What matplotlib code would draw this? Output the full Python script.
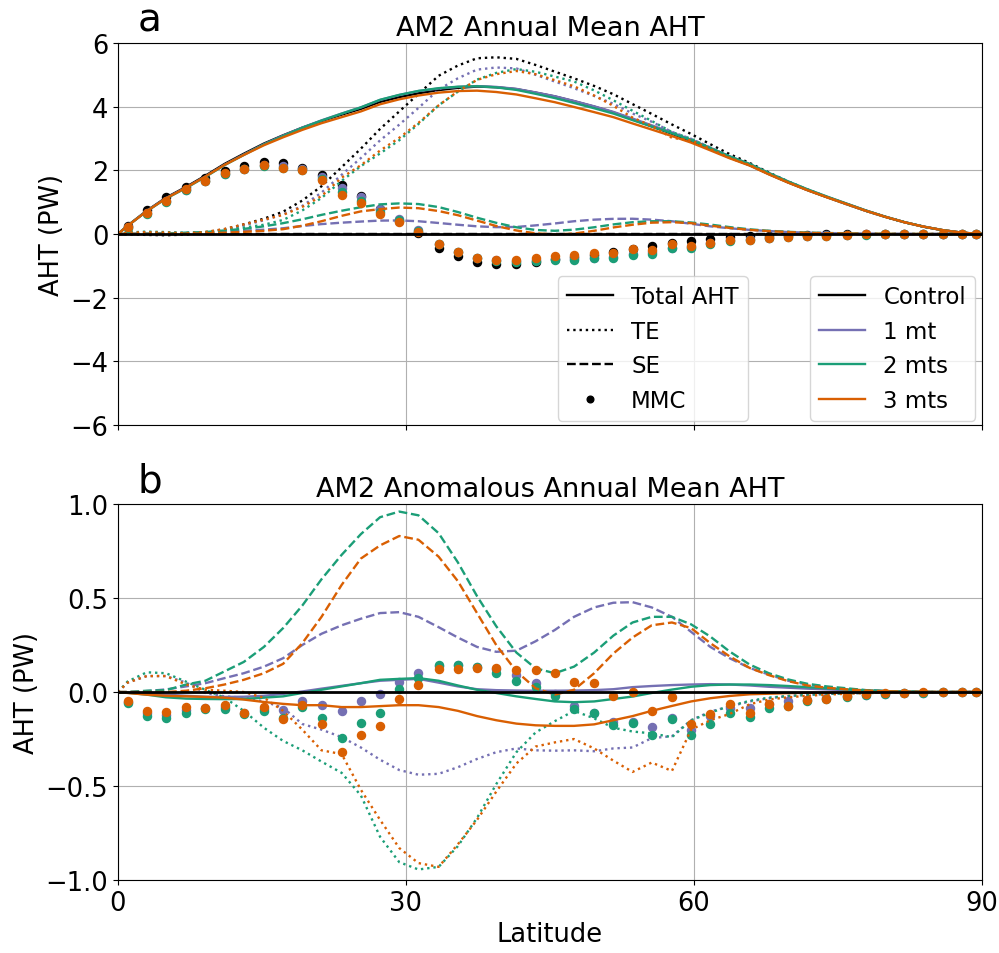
import numpy as np
import matplotlib
matplotlib.use('Agg')
import matplotlib.pyplot as plt
from matplotlib.lines import Line2D

# latitude of the model points (dots); lines also go to 0 and 90
lat = [1.0, 3.0, 5.0, 7.1, 9.1, 11.1, 13.1, 15.2, 17.2, 19.2, 21.2, 23.3, 25.3, 27.3, 29.3,
       31.3, 33.4, 35.4, 37.4, 39.4, 41.5, 43.5, 45.5, 47.5, 49.6, 51.6, 53.6, 55.6, 57.7, 59.7,
       61.7, 63.7, 65.8, 67.8, 69.8, 71.8, 73.8, 75.9, 77.9, 79.9, 81.9, 83.9, 85.9, 87.9, 89.4]

# control run (PW)
ctl_total = [0.26, 0.73, 1.14, 1.48, 1.83, 2.2, 2.52, 2.84, 3.1, 3.34, 3.55, 3.75, 3.93, 4.15, 4.3,
             4.42, 4.52, 4.59, 4.63, 4.61, 4.55, 4.44, 4.32, 4.17, 4.0, 3.82, 3.6, 3.38, 3.15, 2.92,
             2.66, 2.4, 2.16, 1.88, 1.62, 1.38, 1.16, 0.94, 0.73, 0.54, 0.37, 0.23, 0.12, 0.04, 0.01]
ctl_te = [-0.01, -0.03, -0.04, -0.02, 0.05, 0.15, 0.3, 0.48, 0.7, 1.05, 1.5, 2.1, 2.68, 3.3, 3.85,
          4.4, 4.97, 5.29, 5.52, 5.55, 5.5, 5.31, 5.1, 4.89, 4.65, 4.39, 4.08, 3.77, 3.44, 3.14,
          2.82, 2.51, 2.23, 1.93, 1.65, 1.4, 1.17, 0.94, 0.73, 0.54, 0.37, 0.23, 0.12, 0.04, 0.01]
ctl_se = [0.0] * 45
ctl_mmc = [0.26, 0.76, 1.15, 1.49, 1.76, 1.97, 2.15, 2.25, 2.22, 2.08, 1.86, 1.55, 1.2, 0.8, 0.42,
           0.02, -0.45, -0.7, -0.89, -0.94, -0.95, -0.87, -0.78, -0.72, -0.65, -0.57, -0.48, -0.39, -0.29, -0.22,
           -0.16, -0.11, -0.07, -0.05, -0.03, -0.02, -0.01, 0, 0, 0, 0, 0, 0, 0, 0]

# anomalies relative to control (PW)
d1_total = [-0.004, -0.007, -0.014, -0.02, -0.025, -0.026, -0.025, -0.02, -0.01, 0.003, 0.018, 0.033, 0.047, 0.06, 0.065,
            0.07, 0.05, 0.03, 0.015, 0.01, 0.008, 0.007, 0.007, 0.008, 0.01, 0.015, 0.026, 0.032, 0.037, 0.04,
            0.042, 0.04, 0.035, 0.028, 0.023, 0.018, 0.014, 0.01, 0.007, 0.005, 0.003, 0.001, 0, 0, 0]
d2_total = [-0.004, -0.014, -0.028, -0.035, -0.037, -0.038, -0.037, -0.03, -0.023, -0.005, 0.012, 0.03, 0.047, 0.065, 0.07,
            0.074, 0.06, 0.035, 0.012, -0.005, -0.023, -0.037, -0.05, -0.054, -0.05, -0.037, -0.024, -0.005, 0.013, 0.028,
            0.037, 0.04, 0.04, 0.037, 0.032, 0.026, 0.02, 0.014, 0.009, 0.005, 0.003, 0.001, 0, 0, 0]
d3_total = [-0.005, -0.014, -0.02, -0.023, -0.026, -0.03, -0.04, -0.053, -0.063, -0.07, -0.07, -0.08, -0.08, -0.075, -0.07,
            -0.07, -0.08, -0.1, -0.128, -0.15, -0.168, -0.177, -0.18, -0.18, -0.172, -0.15, -0.128, -0.1, -0.074, -0.05,
            -0.033, -0.021, -0.012, -0.009, -0.006, -0.004, -0.003, -0.002, -0.001, 0, 0, 0, 0, 0, 0]

d1_te = [0.05, 0.085, 0.085, 0.05, -0.005, -0.023, -0.03, -0.05, -0.084, -0.17, -0.2, -0.24, -0.295, -0.36, -0.415,
         -0.44, -0.435, -0.4, -0.356, -0.32, -0.3, -0.31, -0.312, -0.31, -0.315, -0.3, -0.295, -0.245, -0.235, -0.15,
         -0.104, -0.077, -0.05, -0.033, -0.021, -0.015, -0.01, -0.007, -0.005, -0.003, 0, 0, 0, 0, 0]
d2_te = [0.056, 0.105, 0.1, 0.055, 0.012, -0.03, -0.1, -0.19, -0.26, -0.31, -0.37, -0.43, -0.55, -0.77, -0.905,
         -0.944, -0.93, -0.82, -0.67, -0.49, -0.32, -0.215, -0.155, -0.1, -0.14, -0.19, -0.21, -0.22, -0.24, -0.15,
         -0.11, -0.074, -0.047, -0.03, -0.021, -0.015, -0.01, -0.007, -0.004, -0.002, 0, 0, 0, 0, 0]
d3_te = [0.05, 0.085, 0.085, 0.04, 0.012, 0.007, 0.0, -0.03, -0.1, -0.2, -0.31, -0.33, -0.52, -0.68, -0.83,
         -0.91, -0.93, -0.81, -0.68, -0.53, -0.38, -0.29, -0.268, -0.25, -0.3, -0.365, -0.425, -0.375, -0.42, -0.2,
         -0.15, -0.117, -0.065, -0.04, -0.028, -0.02, -0.014, -0.009, -0.006, -0.003, 0, 0, 0, 0, 0]

d1_se = [0.0, 0.005, 0.014, 0.03, 0.047, 0.074, 0.10, 0.135, 0.18, 0.25, 0.31, 0.355, 0.39, 0.42, 0.425,
         0.40, 0.345, 0.29, 0.24, 0.214, 0.22, 0.27, 0.33, 0.40, 0.45, 0.475, 0.478, 0.45, 0.40, 0.32,
         0.24, 0.18, 0.128, 0.093, 0.06, 0.04, 0.026, 0.014, 0.01, 0.005, 0.002, 0, 0, 0, 0]
d2_se = [0.0, 0.007, 0.01, 0.04, 0.06, 0.11, 0.16, 0.24, 0.34, 0.46, 0.60, 0.73, 0.84, 0.93, 0.96,
         0.94, 0.845, 0.69, 0.51, 0.35, 0.21, 0.126, 0.10, 0.135, 0.21, 0.30, 0.37, 0.40, 0.40, 0.36,
         0.295, 0.216, 0.146, 0.10, 0.067, 0.044, 0.03, 0.02, 0.01, 0.005, 0.002, 0, 0, 0, 0]
d3_se = [0.0, 0.0, 0.0, 0.007, 0.02, 0.04, 0.065, 0.10, 0.15, 0.26, 0.40, 0.57, 0.71, 0.78, 0.83,
         0.81, 0.72, 0.59, 0.42, 0.25, 0.11, 0.02, -0.014, 0.012, 0.10, 0.205, 0.29, 0.355, 0.37, 0.34,
         0.26, 0.19, 0.128, 0.09, 0.058, 0.035, 0.023, 0.014, 0.008, 0.004, 0.002, 0, 0, 0, 0]

d1_mmc = [-0.055, -0.11, -0.12, -0.095, -0.085, -0.078, -0.11, -0.09, -0.093, -0.049, -0.067, -0.1, -0.046, -0.01, 0.056,
          0.1, 0.14, 0.144, 0.135, 0.123, 0.09, 0.047, -0.01, -0.075, -0.11, -0.158, -0.16, -0.188, -0.14, -0.2,
          -0.126, -0.086, -0.086, -0.065, -0.047, -0.042, -0.03, -0.02, -0.015, -0.008, -0.005, -0.003, -0.002, -0.001, 0]
d2_mmc = [-0.058, -0.128, -0.14, -0.11, -0.088, -0.088, -0.116, -0.1, -0.137, -0.08, -0.14, -0.246, -0.167, -0.11, 0.016,
          0.074, 0.144, 0.144, 0.135, 0.1, 0.06, 0.025, -0.023, -0.088, -0.11, -0.175, -0.165, -0.228, -0.146, -0.228,
          -0.17, -0.114, -0.135, -0.086, -0.074, -0.047, -0.039, -0.025, -0.018, -0.01, -0.005, -0.003, -0.002, -0.001, 0]
d3_mmc = [-0.049, -0.1, -0.107, -0.08, -0.083, -0.067, -0.11, -0.08, -0.146, -0.067, -0.17, -0.32, -0.228, -0.18, -0.037,
          0.035, 0.123, 0.123, 0.126, 0.13, 0.118, 0.118, 0.1, 0.056, 0.05, -0.022, 0.0, -0.1, -0.027, -0.17,
          -0.118, -0.065, -0.112, -0.065, -0.074, -0.042, -0.039, -0.021, -0.012, -0.007, -0.004, -0.002, -0.001, 0, 0]

names = ['Control', '1 mt', '2 mts', '3 mts']
colors = ['k', '#7570b3', '#1b9e77', '#d95f02']
zero = [0.0] * 45
anoms = [
    (zero, zero, zero, zero),
    (d1_total, d1_te, d1_se, d1_mmc),
    (d2_total, d2_te, d2_se, d2_mmc),
    (d3_total, d3_te, d3_se, d3_mmc),
]

plt.rcParams['font.size'] = 18.5

fig = plt.figure(figsize=(9.99, 9.54), dpi=100)
ax1 = fig.add_axes([0.1181, 0.5535, 0.8649, 0.4004])
ax2 = fig.add_axes([0.1181, 0.0765, 0.8649, 0.3941])

lat = np.array(lat)
xl = np.r_[0, lat, 90]


def ends(v):
    return np.r_[0, v, 0]


lw = 1.7
ms = 5.8
for i, (c, a) in enumerate(zip(colors, anoms)):
    tot, te, se, mmc = [np.array(v) for v in a]
    # panel a: full fields
    ax1.plot(xl, ends(np.array(ctl_total) + tot), '-', color=c, lw=lw)
    ax1.plot(xl, ends(np.array(ctl_te) + te), ':', color=c, lw=lw)
    ax1.plot(xl, ends(np.array(ctl_se) + se), '--', color=c, lw=lw)
    ax1.plot(lat, np.array(ctl_mmc) + mmc, 'o', color=c, ms=ms, ls='none')
    # panel b: anomalies (control is the zero line)
    if i == 0:
        continue
    ax2.plot(xl, ends(tot), '-', color=c, lw=lw)
    ax2.plot(xl, ends(te), ':', color=c, lw=lw)
    ax2.plot(xl, ends(se), '--', color=c, lw=lw)
    ax2.plot(lat, mmc, 'o', color=c, ms=ms, ls='none')

for ax in (ax1, ax2):
    ax.axhline(0, color='k', lw=lw + 0.3, zorder=5)
    ax.set_xlim(0, 90)
    ax.set_xticks([0, 30, 60, 90])
    ax.grid(True)
    ax.set_ylabel('AHT (PW)')

ax1.set_ylim(-6, 6)
ax1.set_yticks([-6, -4, -2, 0, 2, 4, 6])
ax1.set_xticklabels([])
ax1.set_title('AM2 Annual Mean AHT', fontsize=19.5)
ax1.text(0.023, 1.012, 'a', transform=ax1.transAxes, fontsize=28, va='bottom', ha='left')

ax2.set_ylim(-1, 1)
ax2.set_yticks([-1.0, -0.5, 0.0, 0.5, 1.0])
ax2.set_xlabel('Latitude')
ax2.set_title('AM2 Anomalous Annual Mean AHT', fontsize=19.5)
ax2.text(0.023, 1.012, 'b', transform=ax2.transAxes, fontsize=28, va='bottom', ha='left')

style_handles = [
    Line2D([], [], color='k', ls='-', lw=lw),
    Line2D([], [], color='k', ls=':', lw=lw),
    Line2D([], [], color='k', ls='--', lw=lw),
    Line2D([], [], color='k', ls='none', marker='o', ms=ms - 1),
]
leg1 = ax1.legend(style_handles, ['Total AHT', 'TE', 'SE', 'MMC'], loc='lower left',
                  bbox_to_anchor=(0.509, 0.0105), borderaxespad=0, fontsize=16.5)
ax1.add_artist(leg1)
exp_handles = [Line2D([], [], color=c, lw=lw) for c in colors]
ax1.legend(exp_handles, names, loc='lower right', bbox_to_anchor=(0.992, 0.0105),
           borderaxespad=0, fontsize=16.5)

fig.savefig('out.png', dpi=100)
